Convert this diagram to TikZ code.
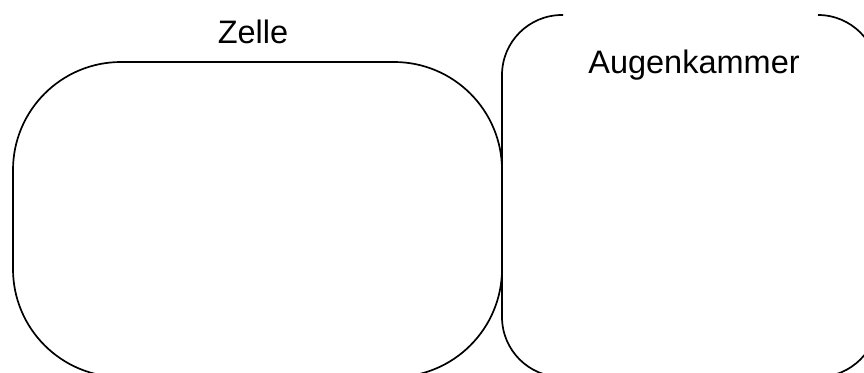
\documentclass[tikz,border=0pt]{standalone}
\usepackage{fontspec}
\setmainfont{Liberation Sans}
\begin{document}
\begin{tikzpicture}[x=1pt,y=-1pt,
  outline/.style={draw=black, line width=1.7pt},
  label/.style={anchor=base, inner sep=0pt, font=\fontsize{32.5}{39}\selectfont}]
\useasboundingbox (0,0) rectangle (864,372);
\clip (0,0) rectangle (864,372);
% left rounded box
\node[outline, rounded corners=108pt, minimum width=489pt, minimum height=315pt, inner sep=0pt] (zelle) at (257.5,219.5) {};
% right rounded box (top edge not drawn)
\coordinate (kTL) at (563,15);
\coordinate (kTR) at (818,15);
\draw[outline, rounded corners=60pt] (kTL) -- (502,15) -- (502,377) -- (878,377) -- (878,15) -- (kTR);
\node[label] (zelletext) at (253,43) {Zelle};
\node[label] (kammertext) at (694,73) {Augenkammer};
\end{tikzpicture}
\end{document}
